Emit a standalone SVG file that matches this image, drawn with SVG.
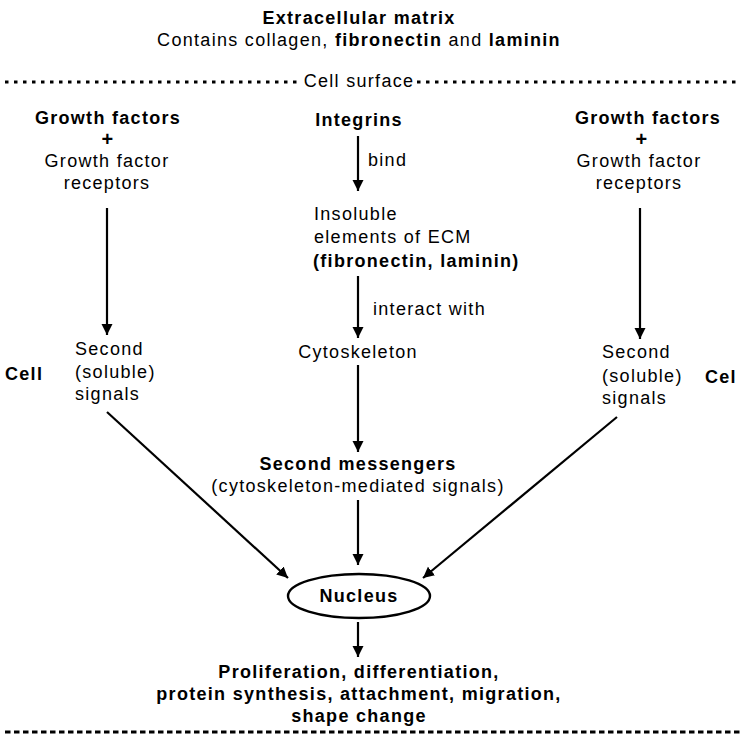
<svg xmlns="http://www.w3.org/2000/svg" width="742" height="740" viewBox="0 0 742 740">
<style>
text{font-family:"Liberation Sans",Arial,Helvetica,sans-serif;font-size:18px;letter-spacing:1.3px;fill:#000}
.b{font-weight:bold}
.c{text-anchor:middle}
.plus{font-size:20px;font-weight:bold;text-anchor:middle}
.ln{stroke:#000;stroke-width:2.2;fill:none}
.dot{stroke:#000;stroke-width:3;stroke-dasharray:3.5 5.5;fill:none}
.dash{stroke:#000;stroke-width:3;stroke-dasharray:5.5 3.5;fill:none}
</style>
<defs>
<marker id="ah" markerUnits="userSpaceOnUse" markerWidth="12" markerHeight="12" refX="11" refY="5.5" orient="auto">
<path d="M0,0 L11,5.5 L0,11 z" fill="#000"/>
</marker>
</defs>
<rect width="742" height="740" fill="#fff"/>

<g id="ecm">
<text class="b c" x="359" y="24">Extracellular matrix</text>
<text class="c" x="359" y="46">Contains collagen, <tspan class="b">fibronectin</tspan> and <tspan class="b">laminin</tspan></text>
</g>

<g id="cell-surface">
<line class="dot" x1="5" y1="82" x2="300" y2="82"/>
<text class="c" x="359" y="87">Cell surface</text>
<line class="dot" x1="417" y1="82" x2="740" y2="82"/>
</g>

<g id="gf-left">
<text class="b c" x="108" y="124">Growth factors</text>
<text class="plus" x="108" y="146">+</text>
<text class="c" x="107" y="167">Growth factor</text>
<text class="c" x="107" y="189">receptors</text>
</g>

<g id="signals-left">
<text x="75" y="355">Second</text>
<text x="75" y="378">(soluble)</text>
<text x="75" y="400">signals</text>
</g>

<g id="cell-left"><text class="b" x="5" y="380">Cell</text></g>

<g id="integrins"><text class="b c" x="359" y="126">Integrins</text></g>
<g id="bind"><text x="368" y="166">bind</text></g>

<g id="insoluble">
<text x="314" y="220">Insoluble</text>
<text x="314" y="243">elements of ECM</text>
<text class="b" x="313" y="267">(fibronectin, laminin)</text>
</g>
<g id="interact"><text x="373" y="315">interact with</text></g>

<g id="cytoskeleton"><text class="c" x="358" y="358">Cytoskeleton</text></g>

<g id="second-messengers">
<text class="b c" x="358" y="470">Second messengers</text>
<text class="c" x="358" y="492">(cytoskeleton-mediated signals)</text>
</g>

<g id="gf-right">
<text class="b c" x="648" y="124">Growth factors</text>
<text class="plus" x="642" y="146">+</text>
<text class="c" x="639" y="167">Growth factor</text>
<text class="c" x="639" y="189">receptors</text>
</g>

<g id="signals-right">
<text x="602" y="358">Second</text>
<text x="602" y="382">(soluble)</text>
<text x="602" y="404">signals</text>
</g>

<g id="cell-right"><text class="b" x="705" y="383">Cel</text></g>

<g id="nucleus">
<ellipse cx="359" cy="596" rx="71" ry="22" fill="none" stroke="#000" stroke-width="2.4"/>
<text class="b c" x="359" y="602">Nucleus</text>
</g>

<g id="outcomes">
<text class="b c" x="359" y="678">Proliferation, differentiation,</text>
<text class="b c" x="359" y="700">protein synthesis, attachment, migration,</text>
<text class="b c" x="359" y="722">shape change</text>
</g>

<g id="bottom-line"><line class="dash" x1="5" y1="732" x2="740" y2="732"/></g>

<g id="connectors">
<line class="ln" x1="107" y1="208" x2="107" y2="335" marker-end="url(#ah)"/>
<line class="ln" x1="640" y1="208" x2="640" y2="339" marker-end="url(#ah)"/>
<line class="ln" x1="358" y1="136" x2="358" y2="191" marker-end="url(#ah)"/>
<line class="ln" x1="358" y1="276" x2="358" y2="338" marker-end="url(#ah)"/>
<line class="ln" x1="358" y1="365" x2="358" y2="452" marker-end="url(#ah)"/>
<line class="ln" x1="358" y1="500" x2="358" y2="565" marker-end="url(#ah)"/>
<line class="ln" x1="358" y1="622" x2="358" y2="657" marker-end="url(#ah)"/>
<line class="ln" x1="107" y1="412" x2="288" y2="578" marker-end="url(#ah)"/>
<line class="ln" x1="617" y1="417" x2="423" y2="578" marker-end="url(#ah)"/>
</g>
</svg>
